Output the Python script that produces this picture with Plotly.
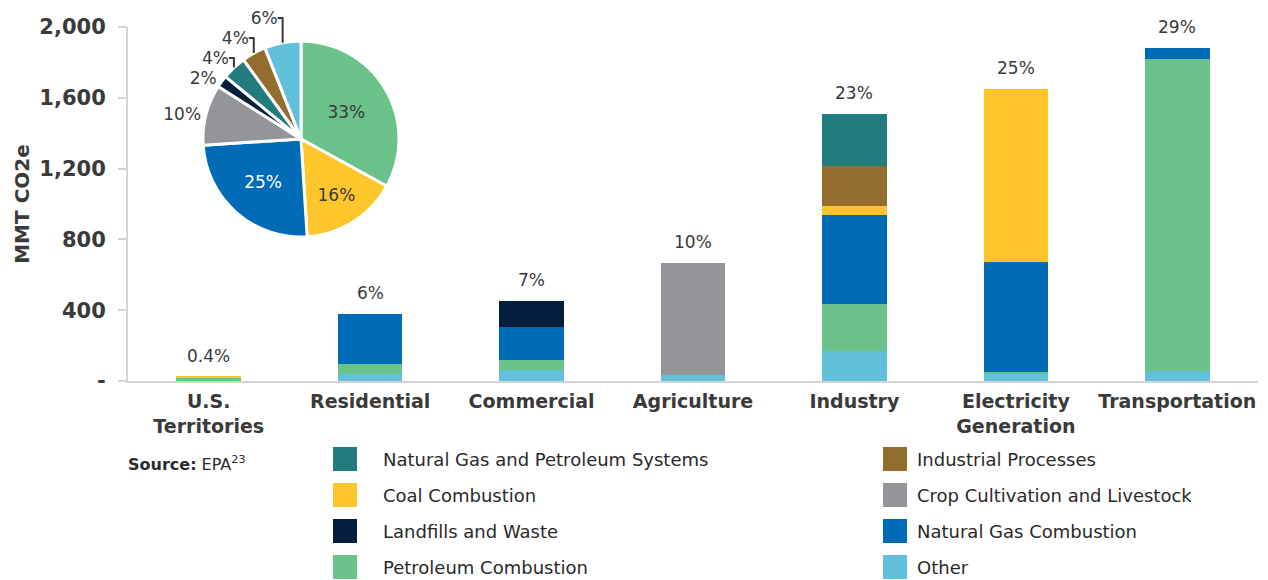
import plotly.graph_objects as go

# categories along the x axis
sectors = ["U.S.<br>Territories", "Residential", "Commercial", "Agriculture",
           "Industry", "Electricity<br>Generation", "Transportation"]
sector_share = ["0.4%", "6%", "7%", "10%", "23%", "25%", "29%"]

# MMT CO2e by source, one value per sector (bottom to top stacking order)
other = [0, 38, 60, 32, 168, 40, 55]
petroleum = [18, 58, 57, 0, 268, 13, 1767]
nat_gas = [0, 283, 187, 0, 504, 619, 58]
coal = [6, 0, 0, 0, 51, 979, 0]
landfills = [0, 0, 147, 0, 0, 0, 0]
crop = [0, 0, 0, 636, 0, 0, 0]
ind_proc = [0, 0, 0, 0, 226, 0, 0]
ng_systems = [0, 0, 0, 0, 294, 0, 0]

# pie: share of total, clockwise from 12 o'clock
pie_sources = ["Petroleum Combustion", "Coal Combustion", "Natural Gas Combustion",
               "Crop Cultivation and Livestock", "Landfills and Waste",
               "Natural Gas and Petroleum Systems", "Industrial Processes", "Other"]
pie_share = [33, 16, 25, 10, 2, 4, 4, 6]

colors = {
    "Natural Gas and Petroleum Systems": "#227B7D",
    "Industrial Processes": "#936D2D",
    "Coal Combustion": "#FEC62A",
    "Crop Cultivation and Livestock": "#949599",
    "Landfills and Waste": "#061E3D",
    "Natural Gas Combustion": "#006BB6",
    "Petroleum Combustion": "#6AC189",
    "Other": "#62C0DA",
}

stack = [("Other", other), ("Petroleum Combustion", petroleum),
         ("Natural Gas Combustion", nat_gas), ("Coal Combustion", coal),
         ("Landfills and Waste", landfills), ("Crop Cultivation and Livestock", crop),
         ("Industrial Processes", ind_proc), ("Natural Gas and Petroleum Systems", ng_systems)]

# legend layout order (two columns)
legend_cols = [["Natural Gas and Petroleum Systems", "Coal Combustion",
                "Landfills and Waste", "Petroleum Combustion"],
               ["Industrial Processes", "Crop Cultivation and Livestock",
                "Natural Gas Combustion", "Other"]]

FONT = "DejaVu Sans"
DARK = "#3a3a3a"
PAD = 8  # page body margin
W, H = 1268 - PAD, 580 - PAD
L, R, T, B = 128 - PAD, 10, 27 - PAD, 580 - 381


def px_x(p):
    # page pixel -> paper coordinate
    return (p - PAD - L) / (W - L - R)


def px_y(p):
    return (H - B - (p - PAD)) / (H - B - T)


fig = go.Figure()

for name, vals in stack:
    fig.add_trace(go.Bar(x=sectors, y=vals, name=name, width=0.4,
                         marker=dict(color=colors[name], line=dict(width=0)),
                         showlegend=False, hoverinfo="x+y+name"))

totals = [sum(v) for v in zip(*[s[1] for s in stack])]
for x, tot, lab in zip(sectors, totals, sector_share):
    fig.add_annotation(x=x, y=tot, text=lab, showarrow=False, yanchor="bottom",
                       yshift=9, font=dict(family=FONT, size=17, color=DARK))

pie_text_pos = ["inside", "inside", "inside", "outside", "outside", "outside", "outside", "outside"]
pie_text_col = [DARK, DARK, "white", DARK, DARK, DARK, DARK, DARK]
fig.add_trace(go.Pie(
    labels=pie_sources, values=pie_share, sort=False, direction="clockwise", rotation=0,
    marker=dict(colors=[colors[s] for s in pie_sources], line=dict(color="white", width=3)),
    texttemplate="%{value}%", textposition=pie_text_pos,
    insidetextfont=dict(family=FONT, size=17, color=pie_text_col),
    outsidetextfont=dict(family=FONT, size=17, color=DARK),
    insidetextorientation="horizontal", automargin=False,
    domain=dict(x=[px_x(203), px_x(399)], y=[px_y(237), px_y(41)]),
    showlegend=False, hoverinfo="label+percent",
))

# legend drawn as swatches + labels
rows = [459, 495, 531, 567]
col_sq = [333, 883]
col_tx = [381, 915]
for c, names in enumerate(legend_cols):
    for r, name in enumerate(names):
        fig.add_shape(type="rect", xref="paper", yref="paper",
                      x0=px_x(col_sq[c]), x1=px_x(col_sq[c] + 24),
                      y0=px_y(rows[r] + 12), y1=px_y(rows[r] - 12),
                      fillcolor=colors[name], line=dict(width=0))
        fig.add_annotation(xref="paper", yref="paper", x=px_x(col_tx[c]), y=px_y(rows[r]),
                           xanchor="left", yanchor="middle", showarrow=False, text=name,
                           font=dict(family=FONT, size=18, color="#2a2a2a"))

fig.add_annotation(xref="paper", yref="paper", x=px_x(126), y=px_y(463),
                   xanchor="left", yanchor="middle", showarrow=False,
                   text="<b>Source:</b> EPA<sup>23</sup>",
                   font=dict(family=FONT, size=16, color="#2a2a2a"))

fig.update_layout(
    width=W, height=H, barmode="stack",
    margin=dict(l=L, r=R, t=T, b=B, autoexpand=False),
    plot_bgcolor="white", paper_bgcolor="white",
    font=dict(family=FONT, color=DARK),
    xaxis=dict(showline=True, linecolor="#d4d4d4", linewidth=2, ticks="",
               ticklabelstandoff=2,
               tickfont=dict(family=FONT, size=19, color=DARK, weight=700),
               showgrid=False, fixedrange=True, automargin=False),
    yaxis=dict(range=[0, 2000], tickvals=[0, 400, 800, 1200, 1600, 2000],
               ticktext=["-", "400", "800", "1,200", "1,600", "2,000"],
               showline=True, linecolor="#d4d4d4", linewidth=2,
               ticks="outside", ticklen=8, tickcolor="#d4d4d4", tickwidth=2,
               ticklabelstandoff=8,
               tickfont=dict(family=FONT, size=21, color=DARK, weight=700),
               showgrid=False, zeroline=False, automargin=False,
               title=dict(text="MMT CO2e", standoff=4,
                          font=dict(family=FONT, size=20, color=DARK, weight=700))),
)

fig.write_html("out.html")
